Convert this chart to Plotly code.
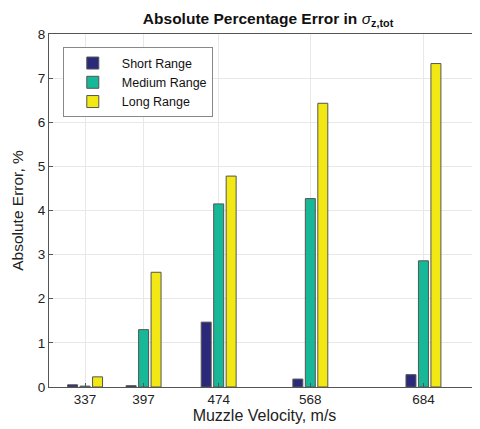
import plotly.graph_objects as go

velocities = [337, 397, 474, 568, 684]
short_range = [0.05, 0.03, 1.47, 0.18, 0.28]
medium_range = [0.02, 1.30, 4.15, 4.27, 2.86]
long_range = [0.23, 2.60, 4.78, 6.43, 7.33]
tick_labels = ["337", "397", "474", "568", "684"]

fig = go.Figure()
line = dict(color="#555555", width=1)
fig.add_trace(go.Bar(x=velocities, y=short_range, name="Short Range",
                     marker=dict(color="#2b2a7a", line=line)))
fig.add_trace(go.Bar(x=velocities, y=medium_range, name="Medium Range",
                     marker=dict(color="#17b897", line=line)))
fig.add_trace(go.Bar(x=velocities, y=long_range, name="Long Range",
                     marker=dict(color="#f1e814", line=line)))

font = "Liberation Sans, Arial, sans-serif"
# page body has an 8px margin, so the figure is 8px smaller and shifted
fig.update_layout(
    width=472, height=421,
    margin=dict(l=41, r=0, t=26, b=42, autoexpand=False),
    paper_bgcolor="white", plot_bgcolor="white",
    barmode="group", bargap=0.36, bargroupgap=0.2,
    font=dict(family=font, size=13.5, color="#222222"),
    title=dict(text="<b>Absolute Percentage Error in </b><i>σ</i><b><sub>z,tot</sub></b>",
               xref="container", x=0.551, xanchor="center",
               yref="container", y=0.975, yanchor="middle",
               font=dict(size=15.5, color="#111111"), automargin=False),
    showlegend=True,
    legend=dict(x=0.032, y=0.962, xanchor="left", yanchor="top",
                bgcolor="white", bordercolor="#888888", borderwidth=1,
                font=dict(size=12.5, color="#111111"), tracegroupgap=0,
                itemwidth=48),
    xaxis=dict(range=[300, 742], tickmode="array", tickvals=velocities,
               ticktext=tick_labels, showgrid=True, gridcolor="#e8e8e8",
               showline=True, linecolor="#555555", mirror=True,
               ticks="inside", ticklen=4, tickcolor="#555555",
               zeroline=False, automargin=False,
               title=dict(text="Muzzle Velocity, m/s", standoff=2,
                          font=dict(size=16))),
    yaxis=dict(range=[0, 8], dtick=1, showgrid=True, gridcolor="#e8e8e8",
               showline=True, linecolor="#555555", mirror=True,
               ticks="inside", ticklen=4, tickcolor="#555555",
               zeroline=False, automargin=False,
               title=dict(text="Absolute Error, %", standoff=10,
                          font=dict(size=15.5))),
)

fig.write_html("out.html")
